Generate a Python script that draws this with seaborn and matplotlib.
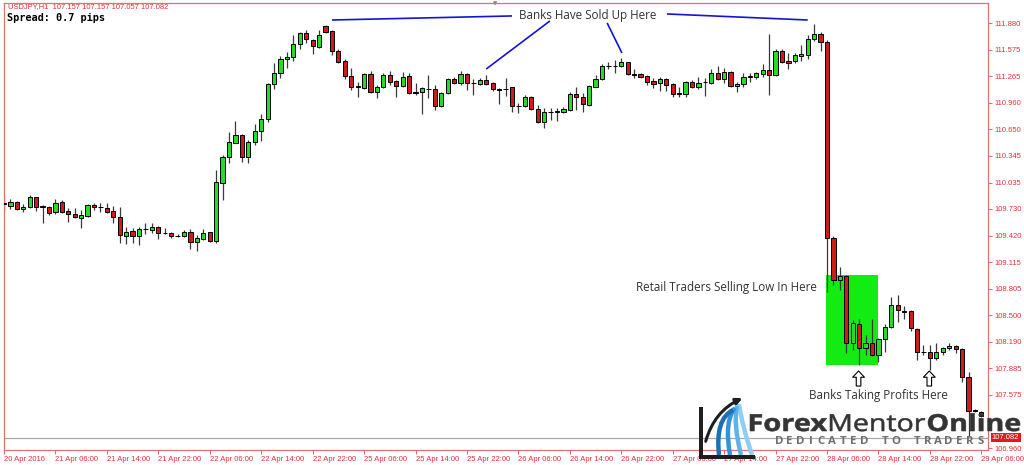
import numpy as np
import pandas as pd
import matplotlib
matplotlib.use("Agg")
import matplotlib.pyplot as plt
import seaborn as sns
from matplotlib.path import Path
from matplotlib.patches import PathPatch, Rectangle, FancyArrowPatch
from matplotlib.textpath import TextPath
from matplotlib.font_manager import FontProperties
from matplotlib.transforms import Affine2D

# ---------------- data (USDJPY H1) ----------------
opens = [
    109.800, 109.764, 109.807, 109.726, 109.756, 109.865, 109.760, 109.756, 109.691, 109.807,
    109.706, 109.671, 109.625, 109.648, 109.779, 109.750, 109.741, 109.703, 109.640, 109.420,
    109.471, 109.417, 109.494, 109.486, 109.521, 109.456, 109.455, 109.418, 109.417, 109.460,
    109.351, 109.378, 109.466, 109.359, 110.034, 110.328, 110.497, 110.586, 110.335, 110.509,
    110.633, 110.768, 111.174, 111.301, 111.467, 111.486, 111.637, 111.764, 111.687, 111.609,
    111.849, 111.791, 111.563, 111.447, 111.273, 111.146, 111.134, 111.293, 111.088, 111.146,
    111.281, 111.212, 111.157, 111.270, 111.081, 111.081, 111.119, 111.116, 110.926, 111.069,
    111.231, 111.185, 111.293, 111.185, 111.177, 111.223, 111.192, 111.116, 111.119, 111.139,
    110.926, 110.922, 111.023, 110.884, 110.740, 110.849, 110.853, 110.856, 110.876, 111.061,
    111.023, 110.934, 111.146, 111.231, 111.386, 111.390, 111.386, 111.428, 111.289, 111.293,
    111.270, 111.215, 111.185, 111.231, 111.177, 111.072, 111.061, 111.204, 111.139, 111.196,
    111.185, 111.301, 111.231, 111.320, 111.154, 111.177, 111.262, 111.262, 111.293, 111.339,
    111.281, 111.563, 111.447, 111.443, 111.501, 111.513, 111.695, 111.756, 111.667, 109.390,
    108.907, 108.957, 108.174, 108.397, 108.116, 108.174, 108.038, 108.220, 108.359, 108.618,
    108.540, 108.548, 108.336, 108.077, 108.070, 108.000, 108.077, 108.116, 108.143, 108.104,
    107.780, 107.400, 107.382]
highs = [
    109.890, 109.845, 109.826, 109.787, 109.892, 109.872, 109.776, 109.764, 109.842, 109.834,
    109.737, 109.737, 109.718, 109.787, 109.802, 109.795, 109.802, 109.764, 109.756, 109.524,
    109.506, 109.524, 109.564, 109.564, 109.533, 109.506, 109.466, 109.436, 109.486, 109.494,
    109.428, 109.494, 109.466, 110.181, 110.355, 110.625, 110.752, 110.594, 110.529, 110.710,
    110.826, 111.185, 111.417, 111.501, 111.551, 111.745, 111.776, 111.803, 111.698, 111.803,
    111.864, 111.803, 111.579, 111.463, 111.359, 111.204, 111.308, 111.331, 111.166, 111.308,
    111.331, 111.223, 111.320, 111.301, 111.192, 111.146, 111.281, 111.166, 111.088, 111.243,
    111.255, 111.331, 111.301, 111.232, 111.243, 111.281, 111.204, 111.127, 111.243, 111.146,
    110.954, 111.050, 111.038, 110.934, 110.896, 110.896, 110.896, 110.914, 111.088, 111.146,
    111.076, 111.166, 111.281, 111.409, 111.435, 111.455, 111.475, 111.435, 111.347, 111.301,
    111.281, 111.243, 111.262, 111.243, 111.185, 111.139, 111.215, 111.223, 111.255, 111.243,
    111.347, 111.386, 111.359, 111.331, 111.204, 111.301, 111.308, 111.320, 111.409, 111.756,
    111.579, 111.579, 111.540, 111.533, 111.629, 111.745, 111.872, 111.783, 111.687, 109.417,
    109.054, 108.965, 108.444, 108.452, 108.270, 108.452, 108.232, 108.397, 108.714, 108.733,
    108.606, 108.560, 108.348, 108.154, 108.154, 108.174, 108.135, 108.181, 108.154, 108.116,
    107.845, 107.415, 107.395]
lows = [
    109.700, 109.733, 109.718, 109.698, 109.737, 109.710, 109.564, 109.660, 109.668, 109.679,
    109.575, 109.622, 109.506, 109.633, 109.718, 109.691, 109.679, 109.571, 109.332, 109.324,
    109.332, 109.312, 109.436, 109.455, 109.379, 109.436, 109.390, 109.402, 109.409, 109.263,
    109.247, 109.370, 109.351, 109.332, 109.834, 110.259, 110.490, 110.277, 110.266, 110.471,
    110.521, 110.740, 111.116, 111.250, 111.359, 111.447, 111.579, 111.649, 111.525, 111.598,
    111.764, 111.513, 111.417, 111.232, 111.108, 111.030, 111.119, 111.076, 111.018, 111.127,
    111.166, 111.023, 111.146, 111.061, 111.050, 110.826, 111.011, 110.876, 110.914, 111.061,
    111.174, 111.166, 111.108, 111.050, 111.166, 111.166, 111.100, 110.945, 111.038, 110.856,
    110.845, 110.914, 110.876, 110.722, 110.664, 110.760, 110.749, 110.845, 110.868, 110.876,
    110.856, 110.922, 111.139, 111.223, 111.347, 111.301, 111.377, 111.281, 111.243, 111.243,
    111.166, 111.127, 111.100, 111.100, 111.030, 111.030, 111.030, 111.127, 111.116, 111.042,
    111.177, 111.223, 111.192, 111.146, 111.088, 111.146, 111.204, 111.231, 111.255, 111.050,
    111.270, 111.417, 111.347, 111.417, 111.447, 111.463, 111.680, 111.563, 108.768, 108.849,
    108.791, 108.058, 108.096, 107.923, 108.038, 108.027, 107.961, 108.077, 108.348, 108.424,
    108.452, 108.320, 107.980, 108.038, 107.865, 107.980, 108.038, 108.096, 108.058, 107.729,
    107.092, 107.380, 107.320]
closes = [
    109.790, 109.810, 109.729, 109.756, 109.865, 109.749, 109.752, 109.687, 109.802, 109.698,
    109.668, 109.633, 109.660, 109.776, 109.749, 109.748, 109.698, 109.637, 109.428, 109.466,
    109.417, 109.494, 109.496, 109.517, 109.448, 109.452, 109.417, 109.416, 109.463, 109.351,
    109.390, 109.455, 109.359, 110.039, 110.335, 110.509, 110.586, 110.328, 110.509, 110.633,
    110.768, 111.174, 111.301, 111.467, 111.486, 111.637, 111.764, 111.698, 111.617, 111.745,
    111.776, 111.559, 111.435, 111.273, 111.146, 111.150, 111.293, 111.088, 111.146, 111.281,
    111.204, 111.157, 111.262, 111.069, 111.076, 111.127, 111.123, 110.922, 111.076, 111.231,
    111.185, 111.293, 111.185, 111.189, 111.223, 111.177, 111.116, 111.112, 111.123, 110.926,
    110.922, 111.023, 110.884, 110.740, 110.856, 110.853, 110.860, 110.888, 111.061, 111.023,
    110.942, 111.154, 111.231, 111.386, 111.390, 111.386, 111.435, 111.293, 111.285, 111.255,
    111.204, 111.177, 111.231, 111.166, 111.058, 111.065, 111.204, 111.139, 111.192, 111.200,
    111.301, 111.231, 111.320, 111.154, 111.177, 111.262, 111.266, 111.301, 111.339, 111.281,
    111.563, 111.428, 111.417, 111.513, 111.525, 111.695, 111.756, 111.667, 109.390, 108.907,
    108.953, 108.181, 108.406, 108.116, 108.174, 108.038, 108.220, 108.359, 108.618, 108.560,
    108.545, 108.348, 108.077, 108.070, 108.000, 108.077, 108.116, 108.143, 108.104, 107.780,
    107.393, 107.395, 107.332]

x_tick_labels = ["20 Apr 2016", "21 Apr 06:00", "21 Apr 14:00", "21 Apr 22:00", "22 Apr 06:00",
                 "22 Apr 14:00", "22 Apr 22:00", "25 Apr 06:00", "25 Apr 14:00", "25 Apr 22:00",
                 "26 Apr 06:00", "26 Apr 14:00", "26 Apr 22:00", "27 Apr 06:00", "27 Apr 14:00",
                 "27 Apr 22:00", "28 Apr 06:00", "28 Apr 14:00", "28 Apr 22:00", "29 Apr 06:00"]
bars_per_label = 8
price_ticks = [111.880, 111.575, 111.265, 110.960, 110.650, 110.345, 110.035, 109.730,
               109.420, 109.115, 108.805, 108.500, 108.190, 107.885, 107.575, 106.960]
bid_price = 107.082
header_text = "USDJPY,H1  107.157 107.157 107.057 107.082"
spread_text = "Spread: 0.7 pips"

# annotation anchors (bar index, price)
sold_line_left = ([51.0, 79.0], [111.918, 111.965])
sold_line_right = ([103.1, 125.0], [111.988, 111.918])
sold_ptr_left = ([84.9, 75.0], [111.907, 111.351])
sold_ptr_right = ([93.8, 96.1], [111.884, 111.536])
retail_box_bars = (127.9, 135.9)
retail_box_prices = (107.923, 108.965)
profit_arrow_bars = [132.9, 143.9]
profit_arrow_prices = (107.679, 107.853)

# ---------------- style ----------------
sns.set_theme(style="white")
plt.rcParams["font.family"] = ["Liberation Sans", "DejaVu Sans"]

W, H = 1024, 465
FRAME = "#e37070"
LABEL = "#e6303a"
BULL = "#27dc27"
BEAR = "#cc1c1c"

fig = plt.figure(figsize=(W / 100, H / 100), dpi=100)
fig.patch.set_facecolor("white")
ax = fig.add_axes([4 / W, 15 / H, 984 / W, 447 / H])
ax.set_facecolor("white")

df = pd.DataFrame({"open": opens, "high": highs, "low": lows, "close": closes})
df["bar"] = np.arange(len(df))
o = df["open"].to_numpy()
c = df["close"].to_numpy()
hi = np.maximum(df["high"].to_numpy(), np.maximum(o, c))
lo = np.minimum(df["low"].to_numpy(), np.minimum(o, c))
xb = df["bar"].to_numpy()

# retail box (behind candles)
ax.add_patch(Rectangle((retail_box_bars[0], retail_box_prices[0]),
                       retail_box_bars[1] - retail_box_bars[0],
                       retail_box_prices[1] - retail_box_prices[0],
                       facecolor="#12ec12", edgecolor="none", zorder=1))

# bid line
ax.axhline(bid_price, color="#a8a8a8", lw=0.9, zorder=1.5)

# wicks and bodies
ax.vlines(xb, lo, hi, color="#3a3a3a", lw=0.9, zorder=2)
body_colors = np.where(c >= o, BULL, BEAR)
ax.bar(xb, np.maximum(np.abs(c - o), 0.004), bottom=np.minimum(o, c), width=0.66,
       color=body_colors, edgecolor="black", linewidth=0.7, zorder=3)

ax.set_xlim(0, 984 / 6.43)
ax.set_ylim(106.938, 112.115)

# axes / ticks
ax.set_xticks(np.arange(len(x_tick_labels)) * bars_per_label)
ax.set_xticklabels(x_tick_labels)
for t in ax.get_xticklabels():
    t.set_ha("left")
ax.yaxis.tick_right()
ax.set_yticks(price_ticks)
ax.set_yticklabels([f"{v:.3f}" for v in price_ticks])
ax.tick_params(axis="both", which="major", direction="out", length=3, width=0.8,
               color=FRAME, labelcolor=LABEL, labelsize=5.5)
ax.tick_params(axis="x", bottom=True, top=False, pad=1.5)
ax.tick_params(axis="y", left=False, right=True, pad=1.8)
for s in ax.spines.values():
    s.set_visible(True)
    s.set_color(FRAME)
    s.set_linewidth(0.9)
ax.grid(False)

# bid price box
ax.text(1.004, bid_price, f"{bid_price:.3f}", transform=ax.get_yaxis_transform(),
        ha="left", va="center", fontsize=5.5, color="white", zorder=10, clip_on=False,
        bbox=dict(boxstyle="square,pad=0.18", fc="#e41a1a", ec="none"))

# annotation lines
for xs, ys in (sold_line_left, sold_line_right, sold_ptr_left, sold_ptr_right):
    ax.plot(xs, ys, color="#1414d8", lw=1.2, zorder=6, clip_on=False, solid_capstyle="butt")

# hollow arrows
for bx in profit_arrow_bars:
    ax.annotate("", xy=(bx, profit_arrow_prices[1]), xytext=(bx, profit_arrow_prices[0]),
                arrowprops=dict(arrowstyle="simple,head_length=0.45,head_width=0.85,tail_width=0.33",
                                fc="white", ec="black", lw=0.8, shrinkA=0, shrinkB=0,
                                mutation_scale=10), zorder=7)


def fx(px):
    return px / W


def fy(py):
    return 1 - py / H


ANN = dict(family=["Open Sans", "DejaVu Sans"], fontsize=8.4, color="#333333")
fig.text(fx(588), fy(15), "Banks Have Sold Up Here", ha="center", va="center", **ANN)
fig.text(fx(817), fy(287), "Retail Traders Selling Low In Here", ha="right", va="center", **ANN)
fig.text(fx(878), fy(395), "Banks Taking Profits Here", ha="center", va="center", **ANN)

# header
fig.text(fx(8), fy(7), header_text, fontsize=5.4, color=LABEL, va="center")
fig.text(fx(7), fy(18), spread_text, family="DejaVu Sans Mono", weight="bold",
         fontsize=7.4, color="black", va="center")
fig.text(fx(495), fy(4), "\u25BC", fontsize=4, color="#8a8a8a", ha="center", va="center",
         family="DejaVu Sans")


# ---------------- logo ----------------
def word(txt, weight, x0, x1, base, size=23.4, color="#343434"):
    fp = FontProperties(family="Open Sans", weight=weight)
    tp = TextPath((0, 0), txt, size=size, prop=fp)
    ext = tp.get_extents()
    kx = (x1 - x0) / ext.width
    tr = Affine2D().translate(-ext.x0, 0).scale(kx / 100, 1 / 100).translate(x0 / 100, (H - base) / 100) \
        + fig.dpi_scale_trans
    fig.add_artist(PathPatch(tp, transform=tr, facecolor=color, edgecolor=color,
                             linewidth=0.4, zorder=20))


word("Forex", "bold", 750, 827, 431)
word("Mentor", "normal", 830, 925, 431)
word("Online", "bold", 928, 1020, 431)

for i, ch in enumerate("DEDICATED TO TRADERS"):
    if ch != " ":
        fig.text(fx(779 + 10.6 * i), fy(441.5), ch, family="Open Sans", weight="bold",
                 fontsize=8.2, color="#6f6f6f", ha="center", va="center", zorder=20)

# icon: black L frame
fig.add_artist(Rectangle((699 / 100, (H - 459) / 100), 4 / 100, 52 / 100,
                         transform=fig.dpi_scale_trans, fc="#1e1e1e", ec="none", zorder=20))
fig.add_artist(Rectangle((699 / 100, (H - 459) / 100), 56 / 100, 4 / 100,
                         transform=fig.dpi_scale_trans, fc="#1e1e1e", ec="none", zorder=20))
# blue swoosh bands
blues = ["#8fcdf2", "#5db2e8", "#3394d8", "#1f6fb5"]
for i, col in enumerate(blues):
    p0 = (752 - 11 * i, 455)
    p1 = (742 - 9 * i, 425 - 2 * i)
    p2 = (739 - 2 * i, 404 + 2 * i)
    verts = [(a / 100, (H - b) / 100) for a, b in (p0, p1, p2)]
    path = Path(verts, [Path.MOVETO, Path.CURVE3, Path.CURVE3])
    fig.add_artist(PathPatch(path, transform=fig.dpi_scale_trans, fc="none", ec=col,
                             lw=3.2, zorder=19, capstyle="butt"))
# black arrow
fig.add_artist(FancyArrowPatch((705 / 100, (H - 444) / 100), (745 / 100, (H - 397) / 100),
                               connectionstyle="arc3,rad=-0.25", arrowstyle="-|>",
                               mutation_scale=9, lw=2.2, color="#1e1e1e",
                               transform=fig.dpi_scale_trans, zorder=21))

fig.savefig("out.png", dpi=100, facecolor="white")
